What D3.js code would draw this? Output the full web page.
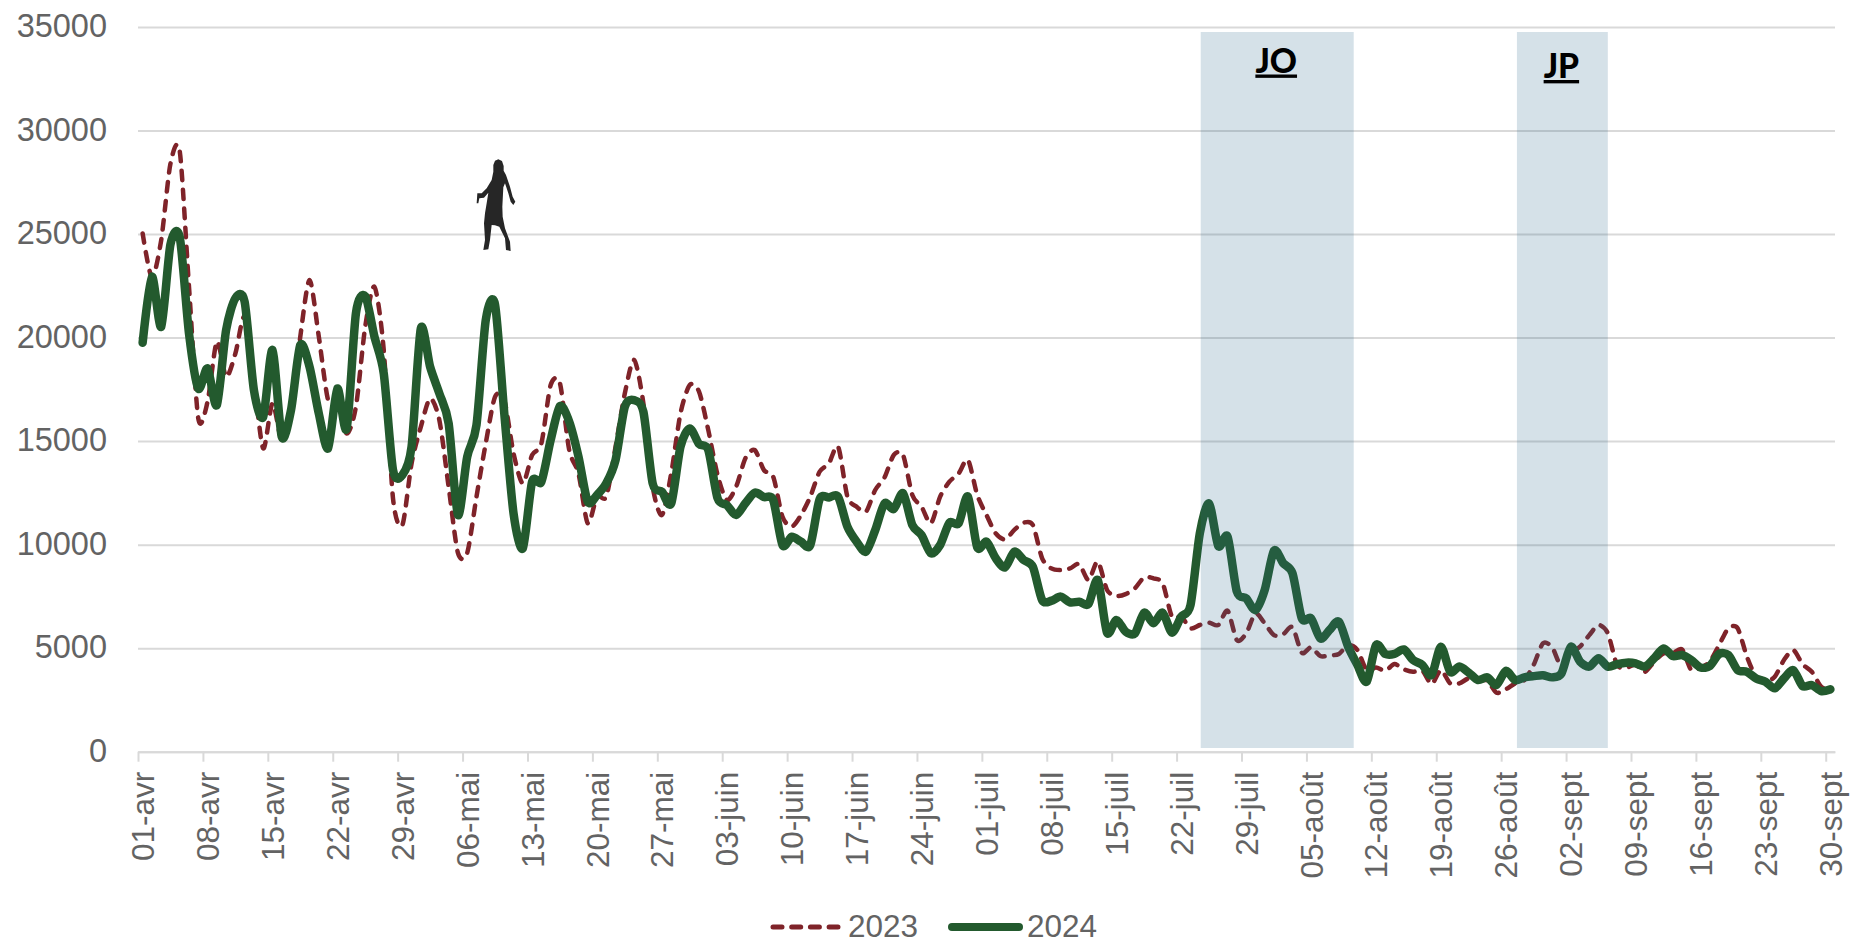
<!DOCTYPE html>
<html>
<head>
<meta charset="utf-8">
<script src="https://cdn.jsdelivr.net/npm/d3@7"></script>
<style>
  html, body { margin: 0; background: #fff; }
  svg { display: block; }
  text { font-family: "Liberation Sans", sans-serif; fill: #636363; }
</style>
</head>
<body>
<svg></svg>
<script>
const values2023 = [
  25030, 22900, 24700, 28400, 29000, 22450, 16100, 16900, 19800, 18110, 19230, 21000, 17950, 14650, 16820, 15050,
  16340, 20040, 22780, 20040, 16980, 17000, 15370, 16660, 20520, 22450, 19400, 12230, 10940, 13920, 15690, 17060,
  16010, 12790, 9600, 9600, 12310, 14890, 17140, 16980, 14400, 12960, 14330, 14890, 17710, 17790, 14570, 13440,
  11030, 12320, 12320, 14730, 17310, 18920, 16820, 12800, 11430, 13440, 16340, 17710, 17390, 15530, 13360, 12150,
  12800, 14170, 14570, 13600, 13280, 11350, 10870, 11430, 12320, 13520, 13920, 14730, 12320, 11830, 11590, 12640,
  13240, 14330, 14330, 12400, 11830, 11030, 12320, 13040, 13440, 14090, 12400, 11430, 10540, 10250, 10710, 11060,
  10950, 9340, 8850, 8770, 8850, 9060, 8290, 9180, 7810, 7520, 7610, 7890, 8420, 8370, 8130, 6520,
  6520, 5960, 6120, 6230, 6120, 6810, 5390, 5710, 6680, 6200, 5630, 5680, 6010, 4780, 5040, 4620,
  4650, 4720, 5150, 4910, 3940, 4070, 3910, 4230, 3980, 3860, 3910, 3270, 3940, 3300, 3300, 3540,
  3430, 3430, 2850, 3010, 3300, 3460, 4190, 5230, 5040, 4110, 4750, 5070, 5630, 6120, 5720, 4190,
  4070, 4190, 3860, 4350, 4750, 4750, 4940, 3940, 4070, 4350, 5150, 5960, 5960, 4590, 3590, 3380,
  3620, 4430, 4910, 4230, 3860, 3140, 3010
];
const values2024 = [
  19750, 22940, 20520, 24500, 24850, 20200, 17540, 18510, 16740, 20360, 21900, 21730, 17460, 16170, 19400, 15210,
  16500, 19640, 18590, 16330, 14650, 17540, 15610, 21170, 22000, 20040, 18270, 13600, 13360, 14730, 20440, 18590,
  17300, 15850, 11430, 14240, 15770, 20840, 21600, 16330, 11500, 9820, 13040, 13040, 15050, 16690, 15940, 14250,
  12070, 12400, 12960, 14090, 16660, 16980, 16420, 12960, 12560, 11990, 14730, 15610, 14860, 14570, 12240, 11910,
  11430, 12000, 12510, 12300, 12150, 9980, 10380, 10140, 9980, 12190, 12280, 12310, 10870, 10140, 9660, 10700,
  11990, 11720, 12480, 10950, 10460, 9580, 9980, 11060, 11030, 12320, 9870, 10140, 9340, 8900, 9660, 9260,
  8930, 7320, 7290, 7490, 7210, 7240, 7130, 8290, 5750, 6360, 5800, 5710, 6710, 6200, 6710, 5750,
  6520, 7080, 10540, 11990, 9930, 10380, 7730, 7410, 6840, 7810, 9710, 9100, 8610, 6440, 6440, 5470,
  5880, 6280, 5070, 4190, 3380, 5150, 4720, 4720, 4940, 4430, 4190, 3700, 5070, 3860, 4110, 3820,
  3460, 3590, 3220, 3910, 3460, 3590, 3650, 3690, 3590, 3780, 5070, 4350, 4110, 4510, 4110, 4230,
  4300, 4270, 4110, 4510, 4990, 4620, 4670, 4430, 4070, 4140, 4720, 4670, 3940, 3860, 3540, 3380,
  3060, 3540, 3940, 3170, 3220, 2930, 3010
];
const xLabels = ['01-avr', '08-avr', '15-avr', '22-avr', '29-avr', '06-mai', '13-mai', '20-mai', '27-mai',
  '03-juin', '10-juin', '17-juin', '24-juin', '01-juil', '08-juil', '15-juil', '22-juil', '29-juil',
  '05-août', '12-août', '19-août', '26-août', '02-sept', '09-sept', '16-sept', '23-sept', '30-sept'];
const yTicks = [0, 5000, 10000, 15000, 20000, 25000, 30000, 35000];
const seriesNames = ['2023', '2024'];
const periodNames = ['JO', 'JP'];
const periodStart = [114.6, 148.7];
const periodEnd = [131.1, 158.5];

const [width, height] = [1852, 944];
const [plotLeft, plotRight, plotTop, plotBottom] = [138, 1835, 27, 751.7];
const red = '#7f2329';
const green = '#235a2e';
const grey = '#d9d9d9';

const svg = d3.select('svg')
  .attr('width', width)
  .attr('height', height);

const x = d3.scaleLinear()
  .domain([0, values2023.length])
  .range([plotLeft, plotRight]);
const y = d3.scaleLinear()
  .domain([0, 35000])
  .range([plotBottom, plotTop]);

// gridlines and y labels
const yAxis = svg.append('g')
  .attr('transform', `translate(${plotLeft}, 0)`)
  .call(d3.axisLeft(y).tickValues(yTicks).tickSize(-(plotRight - plotLeft)).tickPadding(31).tickFormat(d => d));
yAxis.select('.domain').remove();
yAxis.selectAll('line')
  .attr('stroke', grey)
  .attr('stroke-width', 2);
yAxis.selectAll('text')
  .attr('font-size', 32.5)
  .attr('dy', '0.3em')
  .style('font-family', '"Liberation Sans", sans-serif');

// x axis, one label each week, labels sit in the middle of their day
const xAxis = svg.append('g')
  .attr('transform', `translate(0, ${plotBottom})`)
  .call(d3.axisBottom(x)
    .tickValues(xLabels.map((d, i) => i * 7))
    .tickSize(10)
    .tickSizeOuter(0)
    .tickFormat((d, i) => xLabels[i]));
xAxis.select('.domain')
  .attr('stroke', grey)
  .attr('stroke-width', 2);
xAxis.selectAll('line')
  .attr('stroke', grey)
  .attr('stroke-width', 2);
xAxis.selectAll('text')
  .attr('font-size', 31.5)
  .attr('text-anchor', 'end')
  .attr('transform', 'translate(4.6, 20) rotate(-90)')
  .attr('x', 0)
  .attr('y', 0)
  .attr('dy', '0.35em')
  .style('font-family', '"Liberation Sans", sans-serif');

// smoothed lines
const line = d3.line()
  .x((d, i) => x(i + 0.5))
  .y(d => y(d))
  .curve(d3.curveCardinal.tension(0.2));

svg.append('path')
  .datum(values2023)
  .attr('fill', 'none')
  .attr('stroke', red)
  .attr('stroke-width', 4.5)
  .attr('stroke-linecap', 'round')
  .attr('stroke-dasharray', '9.5 9.5')
  .attr('d', line);
svg.append('path')
  .datum(values2024)
  .attr('fill', 'none')
  .attr('stroke', green)
  .attr('stroke-width', 8.5)
  .attr('stroke-linecap', 'round')
  .attr('stroke-linejoin', 'round')
  .attr('d', line);

// JO and JP periods, see-through so the lines still show
svg.append('g')
  .selectAll('rect')
  .data(periodNames)
  .join('rect')
  .attr('x', (d, i) => x(periodStart[i]))
  .attr('width', (d, i) => x(periodEnd[i]) - x(periodStart[i]))
  .attr('y', 32)
  .attr('height', 716)
  .attr('fill', '#2d698c')
  .attr('fill-opacity', 0.2);

svg.append('g')
  .selectAll('text')
  .data(periodNames)
  .join('text')
  .attr('x', (d, i) => x((periodStart[i] + periodEnd[i]) / 2) - 1)
  .attr('y', (d, i) => i ? 78 : 72.5)
  .attr('text-anchor', 'middle')
  .attr('font-size', 33.5)
  .attr('font-weight', 900)
  .style('font-family', 'Lato, sans-serif')
  .style('fill', '#000')
  .style('text-decoration', 'underline')
  .text(d => d);

// silhouette
svg.append('path')
  .attr('transform', 'translate(460, 150) scale(0.3333)')
  .attr('fill', '#262626')
  .attr('d', 'M115,28 L126,33 L131,48 L131,62 L138,75 L150,110 L158,140 L166,155 L160,165 L152,155 L145,130 ' +
    'L135,100 L130,112 L127,170 L128,200 L135,235 L150,275 L152,303 L138,300 L135,265 L118,230 L105,226 ' +
    'L95,225 L90,270 L85,298 L70,300 L75,270 L72,220 L75,190 L80,160 L85,128 L72,143 L58,145 L55,160 ' +
    'L50,160 L52,130 L65,130 L80,115 L95,90 L100,65 L100,45 L105,32 Z');

// legend
const legend = svg.append('g');
legend.append('line')
  .attr('x1', 773).attr('x2', 838)
  .attr('y1', 927).attr('y2', 927)
  .attr('stroke', red)
  .attr('stroke-width', 5)
  .attr('stroke-linecap', 'round')
  .attr('stroke-dasharray', '9 9.7');
legend.append('line')
  .attr('x1', 952).attr('x2', 1019)
  .attr('y1', 927).attr('y2', 927)
  .attr('stroke', green)
  .attr('stroke-width', 8)
  .attr('stroke-linecap', 'round');
legend.selectAll('text')
  .data(seriesNames)
  .join('text')
  .attr('x', (d, i) => i ? 1027 : 848)
  .attr('y', 937)
  .attr('font-size', 31.5)
  .text(d => d);
</script>
</body>
</html>
